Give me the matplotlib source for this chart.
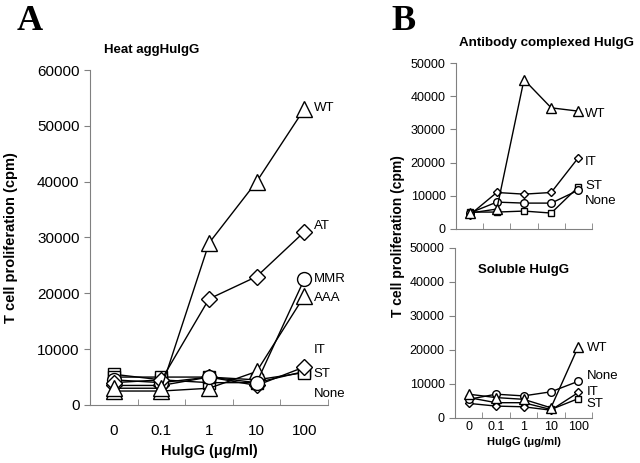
import matplotlib.pyplot as plt

plt.rcParams['font.family'] = ['Liberation Sans', 'DejaVu Sans']

doses = ['0', '0.1', '1', '10', '100']

# Panel A - heat aggregated HuIgG
heat_wt = [3000, 3000, 29000, 40000, 53000]
heat_at = [4000, 4500, 19000, 23000, 31000]
heat_mmr = [4500, 4000, 5000, 4000, 22500]
heat_aaa = [2500, 2500, 3000, 6000, 19500]
heat_it = [3500, 3500, 5000, 3500, 6800]
heat_st = [5000, 5000, 5000, 4500, 5800]
heat_none = [5500, 4500, 4000, 4000, 6000]

# Panel B top - antibody complexed HuIgG
cplx_wt = [4800, 6000, 45000, 36500, 35500]
cplx_it = [4200, 11000, 10500, 11000, 21500]
cplx_st = [5100, 5100, 5400, 4800, 12700]
cplx_none = [4800, 8100, 7800, 7800, 11700]

# Panel B bottom - soluble HuIgG
sol_wt = [7000, 6000, 5500, 3000, 21000]
sol_none = [5500, 7000, 6500, 7700, 10800]
sol_it = [4300, 3500, 3300, 2300, 7500]
sol_st = [6000, 4500, 4500, 2500, 5700]


def style_axis(ax, ymax, tick_size, pad):
    x = range(len(doses))
    ax.set_xlim(-0.5, len(doses) - 0.5)
    ax.set_ylim(0, ymax)
    for side in ['top', 'right']:
        ax.spines[side].set_visible(False)
    for side in ['left', 'bottom']:
        ax.spines[side].set_color('#808080')
        ax.spines[side].set_linewidth(0.8)
    ax.set_xticks(list(x))
    ax.set_xticklabels(doses, fontsize=tick_size)
    ax.set_xticks([i - 0.5 for i in range(len(doses) + 1)], minor=True)
    ax.tick_params(axis='x', which='major', length=0, pad=pad)
    ax.tick_params(axis='x', which='minor', length=4, color='#808080', direction='in')
    ax.tick_params(axis='y', length=4, color='#808080', labelsize=tick_size)


def draw(ax, values, marker, ms, lw=1.0):
    ax.plot(range(len(doses)), values, color='black', lw=lw, marker=marker, ms=ms,
            mfc='white', mec='black', mew=1.0, clip_on=False)


fig = plt.figure(figsize=(6.4, 4.63), dpi=100)

# ---- Panel A
axA = fig.add_axes([0.1406, 0.1253, 0.372, 0.7235])
draw(axA, heat_none, 's', 8)
draw(axA, heat_st, 's', 8)
draw(axA, heat_it, 'D', 8)
draw(axA, heat_aaa, '^', 11)
draw(axA, heat_mmr, 'o', 10)
draw(axA, heat_at, 'D', 8)
draw(axA, heat_wt, '^', 11)
style_axis(axA, 60000, 11, 14)
axA.set_yticks(range(0, 60001, 10000))
axA.set_xlabel('HulgG (\u03bcg/ml)', fontsize=10.5, fontweight='bold', labelpad=4)
axA.set_ylabel('T cell proliferation (cpm)', fontsize=10.5, fontweight='bold', labelpad=14)

labels_a = [('WT', 53200), ('AT', 32000), ('MMR', 22500), ('AAA', 19200),
            ('IT', 9850), ('ST', 5550), ('None', 2000)]
for name, yv in labels_a:
    axA.text(4.2, yv, name, fontsize=9.5, va='center', ha='left')

fig.text(0.163, 0.885, 'Heat aggHulgG', fontsize=9.5, fontweight='bold')
fig.text(0.026, 0.935, 'A', fontsize=26, fontweight='bold', family='Liberation Serif')

# ---- Panel B top
axB1 = fig.add_axes([0.7125, 0.5054, 0.2125, 0.3585])
draw(axB1, cplx_st, 's', 5)
draw(axB1, cplx_none, 'o', 5.5)
draw(axB1, cplx_it, 'D', 4.5)
draw(axB1, cplx_wt, '^', 6.5)
style_axis(axB1, 50000, 9, 2)
axB1.set_yticks(range(0, 50001, 10000))
axB1.set_xticklabels([])

labels_b1 = [('WT', 34500), ('IT', 20200), ('ST', 13000), ('None', 8500)]
for name, yv in labels_b1:
    axB1.text(4.25, yv, name, fontsize=9.5, va='center', ha='left')

fig.text(0.717, 0.9, 'Antibody complexed HulgG', fontsize=9.6, fontweight='bold')
fig.text(0.612, 0.935, 'B', fontsize=26, fontweight='bold', family='Liberation Serif')

# ---- Panel B bottom
axB2 = fig.add_axes([0.711, 0.0972, 0.214, 0.3672])
draw(axB2, sol_st, 's', 5)
draw(axB2, sol_it, 'D', 4.5)
draw(axB2, sol_none, 'o', 5.5)
draw(axB2, sol_wt, '^', 6.5)
style_axis(axB2, 50000, 9, 2)
axB2.set_yticks(range(0, 50001, 10000))
axB2.set_xlabel('HulgG (\u03bcg/ml)', fontsize=8, fontweight='bold', labelpad=3)
axB2.text(0.5, 0.87, 'Soluble HulgG', transform=axB2.transAxes, fontsize=9.5,
          fontweight='bold', ha='center', va='center')

labels_b2 = [('WT', 20600), ('None', 12300), ('IT', 7600), ('ST', 4000)]
for name, yv in labels_b2:
    axB2.text(4.3, yv, name, fontsize=9.5, va='center', ha='left')

fig.text(0.622, 0.49, 'T cell proliferation (cpm)', fontsize=10, fontweight='bold',
         rotation=90, ha='center', va='center')

fig.savefig('out.png', dpi=100)
